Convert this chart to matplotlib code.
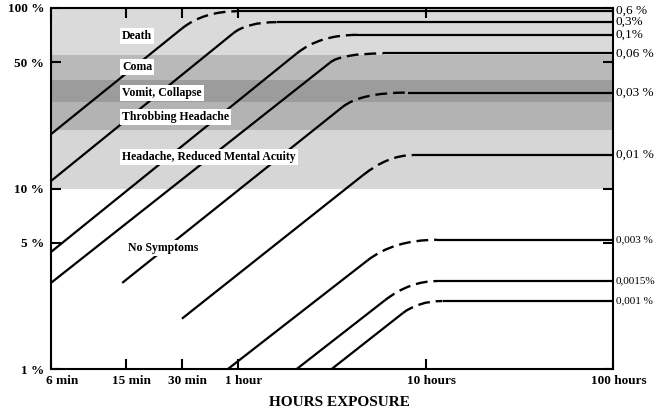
import numpy as np
import matplotlib
matplotlib.use('Agg')
import matplotlib.pyplot as plt
from matplotlib.path import Path
from matplotlib.patches import PathPatch

# CO concentration in the air, written at the right end of each curve
conc_labels = ['0,6 %', '0,3%', '0,1%', '0,06 %', '0,03 %', '0,01 %', '0,003 %', '0,0015%', '0,001 %']
# start of each curve (hours, % COHb)
start_h = [0.1, 0.1, 0.1, 0.1, 0.24, 0.5, 0.88, 2.05, 3.15]
start_pct = [20, 11, 4.45, 3.0, 3.0, 1.9, 1.0, 1.0, 1.0]
# end of the straight rising part
bend_h = [0.5, 0.94, 2.05, 3.1, 3.6, 4.65, 4.9, 6.05, 7.55]
bend_pct = [77, 72.5, 56, 50, 28.3, 11.9, 4.0, 2.4, 2.04]
# start of the flat part (equilibrium value)
plateau_h = [1.0, 1.6, 4.3, 5.9, 8.0, 8.5, 11.5, 11.5, 12.3]
plateau_pct = [96, 83.5, 71, 56, 34, 15.3, 5.2, 3.07, 2.38]
end_h = 100

# symptom bands
band_names = ['Death', 'Coma', 'Vomit, Collapse', 'Throbbing Headache', 'Headache, Reduced Mental Acuity']
band_low = [55, 40, 30, 21, 10]
band_high = [100, 55, 40, 30, 21]
band_grey = ['#dadada', '#b9b9b9', '#9c9c9c', '#b3b3b3', '#d6d6d6']
band_label_h = [0.24, 0.24, 0.24, 0.24, 0.24]
band_label_pct = [70, 47, 33.8, 24.9, 14.9]

# axis ticks
x_tick_vals = [0.1, 0.25, 0.5, 1, 10, 100]
x_tick_text = ['6 min', '15 min', '30 min', '1 hour', '10 hours', '100 hours']
y_tick_vals = [1, 5, 10, 50, 100]
y_tick_text = ['1 %', '5 %', '10 %', '50 %', '100 %']

serif = 'Liberation Serif'

fig = plt.figure(figsize=(6.57, 4.13), dpi=100)
ax = fig.add_axes([51 / 657, 44 / 413, 562 / 657, 361 / 413])
ax.set_xscale('log')
ax.set_yscale('log')
ax.set_xlim(0.1, 100)
ax.set_ylim(1, 100)

# shaded bands
for lo, hi, c in zip(band_low, band_high, band_grey):
    ax.axhspan(lo, hi, color=c, lw=0, zorder=0)

for name, xh, yp in zip(band_names, band_label_h, band_label_pct):
    ax.text(xh, yp, name, ha='left', va='center', fontsize=8.5, fontweight='bold', family=serif,
            bbox=dict(facecolor='white', edgecolor='none', pad=1.5), zorder=4)
ax.text(0.258, 4.7, 'No Symptoms', ha='left', va='center', fontsize=8.5, fontweight='bold', family=serif,
        bbox=dict(facecolor='white', edgecolor='none', pad=1.5), zorder=4)

# exposure curves
for i in range(len(conc_labels)):
    # rising part
    ax.plot([start_h[i], bend_h[i]], [start_pct[i], bend_pct[i]], color='black', lw=1.6,
            solid_capstyle='butt', zorder=2)
    # control point: the rising line carried on up to the equilibrium level
    lx0, ly0 = np.log10(start_h[i]), np.log10(start_pct[i])
    lx1, ly1 = np.log10(bend_h[i]), np.log10(bend_pct[i])
    lyp = np.log10(plateau_pct[i])
    ctrl_h = 10 ** (lx1 + (lyp - ly1) * (lx1 - lx0) / (ly1 - ly0))
    curve = Path([(bend_h[i], bend_pct[i]), (ctrl_h, plateau_pct[i]), (plateau_h[i], plateau_pct[i])],
                 [Path.MOVETO, Path.CURVE3, Path.CURVE3])
    ax.add_patch(PathPatch(curve, fill=False, edgecolor='black', lw=1.7, linestyle=(0, (5, 2.5)),
                           capstyle='butt', zorder=2))
    # flat part
    ax.plot([plateau_h[i], end_h], [plateau_pct[i], plateau_pct[i]], color='black', lw=1.6,
            solid_capstyle='butt', zorder=2)
    # the lowest labels run into the right edge of the picture, so they are set smaller
    fs = 9.5 if plateau_pct[i] > 10 else 8
    ax.annotate(conc_labels[i], xy=(1, plateau_pct[i]), xycoords=('axes fraction', 'data'),
                xytext=(2, 0), textcoords='offset points', ha='left', va='center',
                fontsize=fs, family=serif, annotation_clip=False)

# axes frame and ticks
for s in ax.spines.values():
    s.set_linewidth(1.5)
ax.minorticks_off()
ax.set_xticks(x_tick_vals)
ax.set_xticklabels([])
ax.set_yticks(y_tick_vals)
ax.set_yticklabels(y_tick_text, fontsize=9.5, fontweight='bold', family=serif)
ax.tick_params(axis='both', which='both', direction='in', length=7, width=1.5, top=True, right=True)
ax.tick_params(axis='y', pad=5)

for v, t in zip(x_tick_vals, x_tick_text):
    ax.annotate(t, xy=(v, 0), xycoords=('data', 'axes fraction'), xytext=(4 if v > 0.1 else 8, -4),
                textcoords='offset points', ha='center', va='top', fontsize=9.5, fontweight='bold',
                family=serif, annotation_clip=False)

fig.text(339 / 657, 1 - 402 / 413, 'HOURS EXPOSURE', ha='center', va='center', fontsize=11,
         fontweight='bold', family=serif)

fig.savefig('out.png', dpi=100)
